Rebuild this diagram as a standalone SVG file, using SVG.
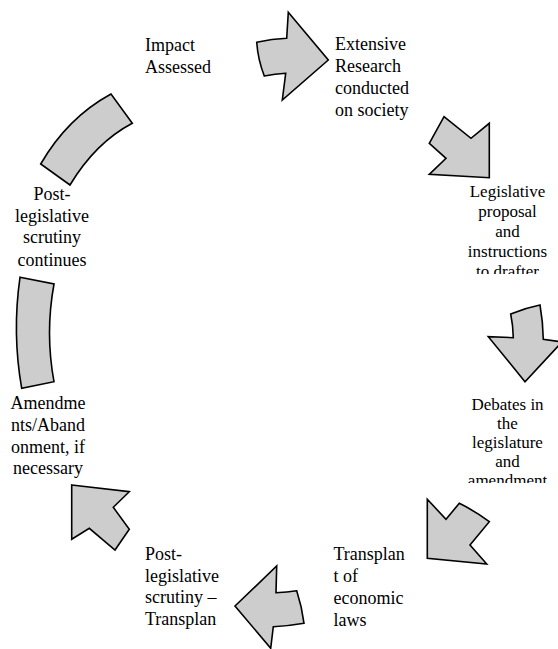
<svg xmlns="http://www.w3.org/2000/svg" width="558" height="649" viewBox="0 0 558 649">
<style>
.sh{fill:#cdcdcd;stroke:#000;stroke-width:1.6;stroke-linejoin:miter}
.s{font-size:17px;text-anchor:middle}
.c{text-anchor:middle}
</style>
<defs>
<clipPath id="clipA"><rect x="440" y="180" width="118" height="94"/></clipPath>
<clipPath id="clipB"><rect x="440" y="390" width="118" height="93"/></clipPath>
</defs>
<rect width="558" height="649" fill="#fff"/>
<g id="connectors">
<path id="arrow1" class="sh" d="M256.7,42.3 Q272,39 286.7,38.3 L288.3,12.3 L328.3,60 L282.3,100 L285.7,73.3 Q275,74 264.3,76 Q258,60 256.7,42.3 Z"/>
<path id="arrow2" class="sh" d="M444,116.7 L471,138.3 L489.3,123.3 L489.3,177.7 L429.3,174.3 L446,158.3 L429.3,143.3 Z"/>
<path id="arrow3" class="sh" d="M510.7,314 Q525,308 540,305 Q543,322 543.3,339.3 L562,342 L525,381.7 L488.3,336.7 L513.3,337.7 Q513,325 510.7,314 Z"/>
<path id="arrow4" class="sh" d="M427.3,499.3 L446,519.3 L459.3,503.3 Q475,511 489.3,521.7 L470,545 L486.7,564 L427.3,558.3 Z"/>
<path id="arrow5" class="sh" d="M235,606 L276.7,566 L276,592.7 Q287,592 296.7,590.7 Q302,607 304,623.3 Q289,626 273.3,626.7 L270.7,648.3 Z"/>
<path id="arrow6" class="sh" d="M71.7,485 L129.3,491.7 L113.3,507.3 L129.3,529.3 L115,550 L89.3,528.3 L71.7,539.3 Z"/>
<path id="arrow7" class="sh" d="M20,277.3 L54,284 Q45,333 54,381.7 L21.7,388.3 Q12,333 20,277.3 Z"/>
<path id="arrow8" class="sh" d="M40.7,164 Q67.6,117.6 111,94 L132.3,123.3 Q95.6,142.6 70,185 Z"/>
</g>
<g font-family="'Liberation Serif', 'Times New Roman', 'DejaVu Serif', serif" font-size="18" fill="#000">
<g id="n1"><text x="145" y="51">Impact</text><text x="145" y="73">Assessed</text></g>
<g id="n2"><text x="335" y="50">Extensive</text><text x="335" y="72">Research</text><text x="335" y="94">conducted</text><text x="335" y="116">on society</text></g>
<g id="n3" clip-path="url(#clipA)"><text class="s" x="507.5" y="197">Legislative</text><text class="s" x="507.5" y="217">proposal</text><text class="s" x="507.5" y="236.5">and</text><text class="s" x="507.5" y="256.5">instructions</text><text class="s" x="507.5" y="276.5">to drafter</text></g>
<g id="n4" clip-path="url(#clipB)"><text class="s" x="507.5" y="409.5">Debates in</text><text class="s" x="507.5" y="428.5">the</text><text class="s" x="507.5" y="447.5">legislature</text><text class="s" x="507.5" y="466.5">and</text><text class="s" x="507.5" y="486">amendment</text></g>
<g id="n5"><text x="333.5" y="560">Transplan</text><text x="333.5" y="581.5">t of</text><text x="333.5" y="603.5">economic</text><text x="333.5" y="625.5">laws</text></g>
<g id="n6"><text x="145" y="560">Post-</text><text x="145" y="581.5">legislative</text><text x="145" y="603">scrutiny –</text><text x="145" y="625">Transplan</text></g>
<g id="n7"><text class="c" x="48" y="408.5">Amendme</text><text class="c" x="48" y="430.5">nts/Aband</text><text class="c" x="48" y="452.5">onment, if</text><text class="c" x="48" y="474">necessary</text></g>
<g id="n8"><text class="c" x="52" y="199.5">Post-</text><text class="c" x="52" y="221.5">legislative</text><text class="c" x="52" y="243">scrutiny</text><text class="c" x="52" y="265.5">continues</text></g>
</g>
</svg>
